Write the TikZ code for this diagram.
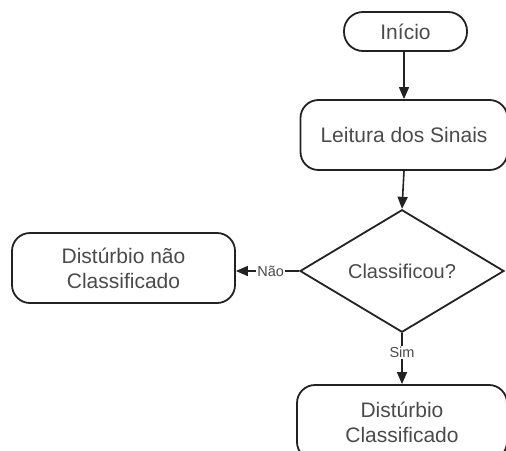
\documentclass[tikz,border=0pt]{standalone}
\usepackage{fontspec}
\setmainfont{Liberation Sans}
\usetikzlibrary{shapes.geometric,arrows.meta}
\definecolor{txt}{HTML}{4A4A4A}
\definecolor{edge}{HTML}{222222}
\begin{document}
\begin{tikzpicture}[x=1pt,y=-1pt,
  box/.style={draw=edge,line width=1.8pt,rounded corners=18pt,inner sep=0pt,
    text=txt,font=\fontsize{21}{25}\selectfont,align=center},
  decision/.style={draw=edge,line width=1.8pt,diamond,inner sep=0pt,
    text=txt,font=\fontsize{20}{24}\selectfont},
  flow/.style={draw=edge,line width=1.6pt,-{Triangle[length=12pt,width=10pt]}},
  lbl/.style={fill=white,inner sep=1pt,text=txt,font=\fontsize{14.5}{16}\selectfont}]
  \useasboundingbox (0,0) rectangle (506,450);
  \clip (0,0) rectangle (506,450);
  % flowchart nodes
  \node[box,rounded corners=19pt,minimum width=123pt,minimum height=39pt] (inicio) at (405.5,31.5) {Início};
  \node[box,minimum width=207pt,minimum height=70pt] (leitura) at (404,135) {Leitura dos Sinais};
  \node[decision,minimum width=204pt,minimum height=102pt] (classif) at (402,271) {Classificou?};
  \node[box,minimum width=223pt,minimum height=70pt] (naoclass) at (123.5,268) {Distúrbio não\\Classificado};
  \node[box,minimum width=210pt,minimum height=75pt] (classado) at (402,422.5) {Distúrbio\\Classificado};
  % connectors
  \draw[flow] (inicio.south -| 404,0) -- (leitura.north -| 404,0);
  \draw[flow] (leitura.south -| 404,0) -- (classif.north);
  \draw[flow] (classif.west) -- node[lbl,pos=0.45] {Não} (classif.west -| naoclass.east);
  \draw[flow] (classif.south) -- node[lbl,pos=0.38] {Sim} (classado.north);
\end{tikzpicture}
\end{document}
